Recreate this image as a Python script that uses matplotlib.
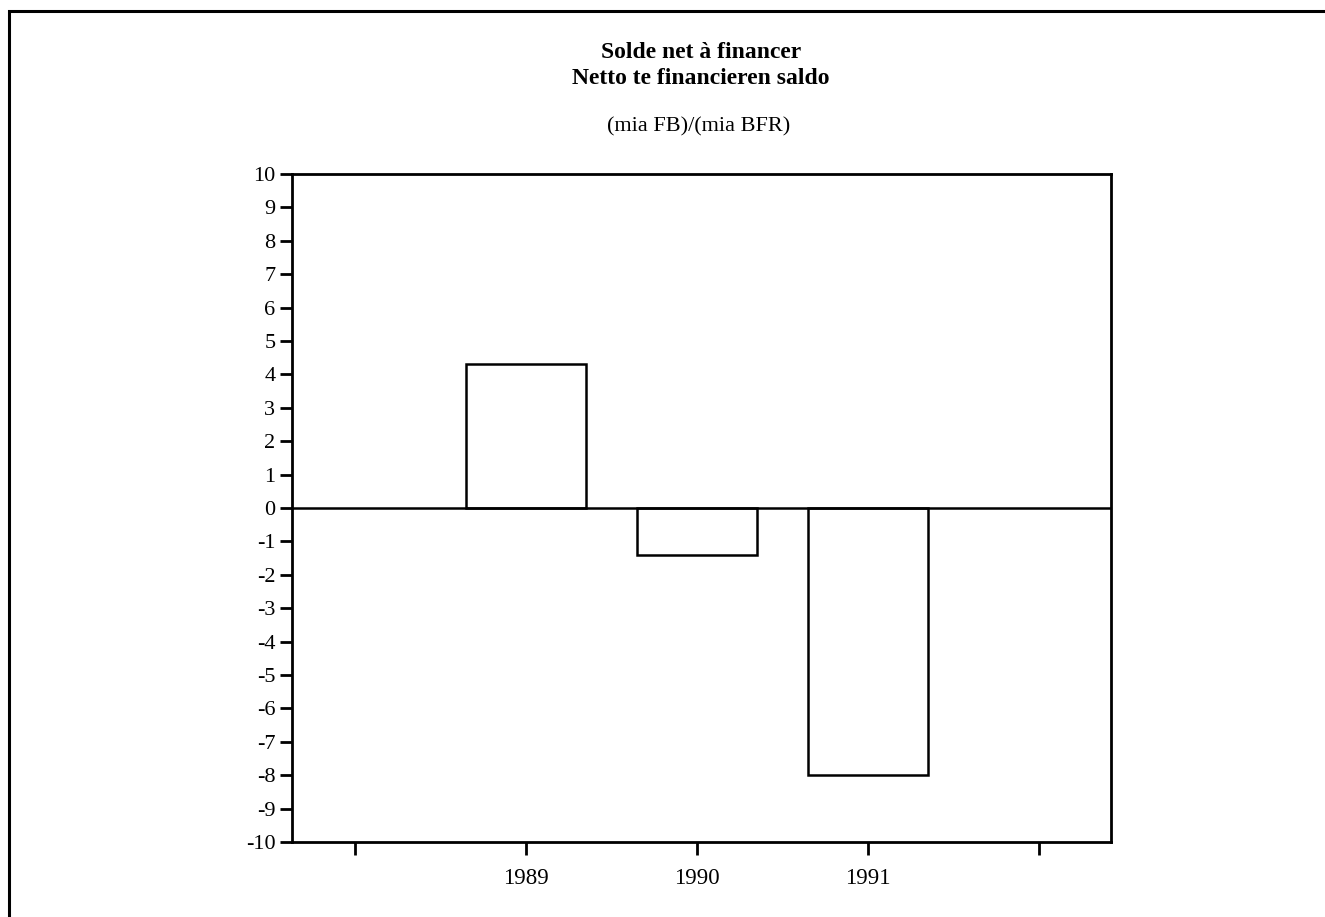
import matplotlib.pyplot as plt
from matplotlib.patches import Rectangle

# data
years = ['1989', '1990', '1991']
solde = [4.3, -1.4, -8.0]
tick_labels = ['', '1989', '1990', '1991', '']
y_ticks = list(range(-10, 11))

plt.rcParams['font.family'] = ['Liberation Serif', 'DejaVu Serif']

fig = plt.figure(figsize=(13.25, 9.17), dpi=100)
ax = fig.add_axes([0.2204, 0.0818, 0.8385 - 0.2204, 0.8103 - 0.0818])

# outer frame of the page (runs off right and bottom edges)
fig.patches.append(Rectangle((9 / 1325, -0.05), 1.2, 1 - 11 / 917 + 0.05,
                             transform=fig.transFigure, fill=False,
                             edgecolor='black', linewidth=2.2))

pos = [1, 2, 3]
ax.bar(pos, solde, width=0.70, facecolor='white', edgecolor='black',
       linewidth=1.8, zorder=3)
ax.axhline(0, color='black', linewidth=1.8, zorder=4)

ax.set_ylim(-10, 10)
ax.set_xlim(-0.37, 4.42)
ax.set_yticks(y_ticks)
ax.set_yticklabels([str(v) for v in y_ticks])
ax.set_xticks(range(len(tick_labels)))
ax.set_xticklabels(tick_labels)

for s in ax.spines.values():
    s.set_linewidth(2.0)
ax.tick_params(axis='both', direction='out', length=9, width=2.0,
               labelsize=16, pad=3)
ax.tick_params(axis='x', pad=10, labelsize=16.5)

fig.text(0.529, 1 - 53 / 917, 'Solde net à financer', ha='center', va='center',
         fontsize=17, fontweight='bold')
fig.text(0.529, 1 - 78 / 917, 'Netto te financieren saldo', ha='center',
         va='center', fontsize=17, fontweight='bold')
fig.text(0.527, 1 - 127 / 917, '(mia FB)/(mia BFR)', ha='center', va='center',
         fontsize=16)

fig.savefig('out.png', dpi=100)
